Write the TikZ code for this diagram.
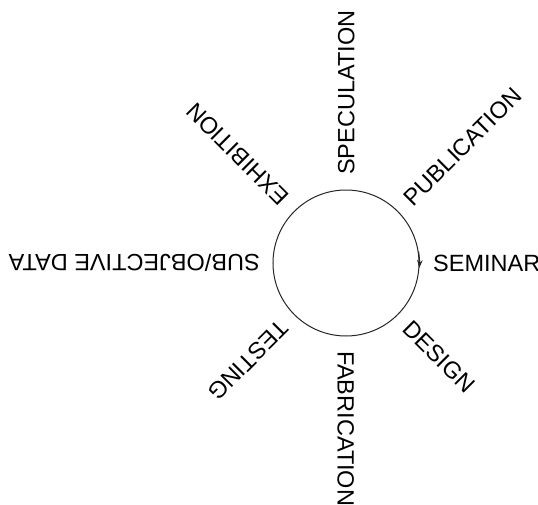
\documentclass[tikz,border=0pt]{standalone}
\usepackage{fontspec}
\setmainfont{Liberation Sans}
\usetikzlibrary{arrows.meta}

\begin{document}
\begin{tikzpicture}[x=1pt,y=1pt,
    lbl/.style={anchor=west,inner sep=0pt,text height=16.8pt,text depth=0pt,
      font=\fontsize{23.5}{27}\selectfont}]
    \useasboundingbox (-346,-241) rectangle (192,263);
    \node[circle,draw=black!85,line width=1pt,minimum size=146pt,inner sep=0pt] (c) at (0,0) {};

    \node[lbl,rotate=0] (sem) at (0:87) {SEMINAR};
    \node[lbl,rotate=45] (pub) at (45:87) {PUBLICATION};
    \node[lbl,rotate=90] (spec) at (90:88) {SPECULATION};
    \node[lbl,rotate=135] (exh) at (135:87) {EXHIBITION};
    \node[lbl,rotate=180] (sub) at (180:86) {SUB/OBJECTIVE DATA};
    \node[lbl,rotate=225] (test) at (225:87) {TESTING};
    \node[lbl,rotate=270] (fab) at (270:88) {FABRICATION};
    \node[lbl,rotate=315] (des) at (315:87) {DESIGN};

    \draw[black!85,line width=1pt,-{Stealth[length=8pt,width=5.5pt]}] (c.9) arc[start angle=9,end angle=-4,radius=73];
  \end{tikzpicture}
\end{document}
